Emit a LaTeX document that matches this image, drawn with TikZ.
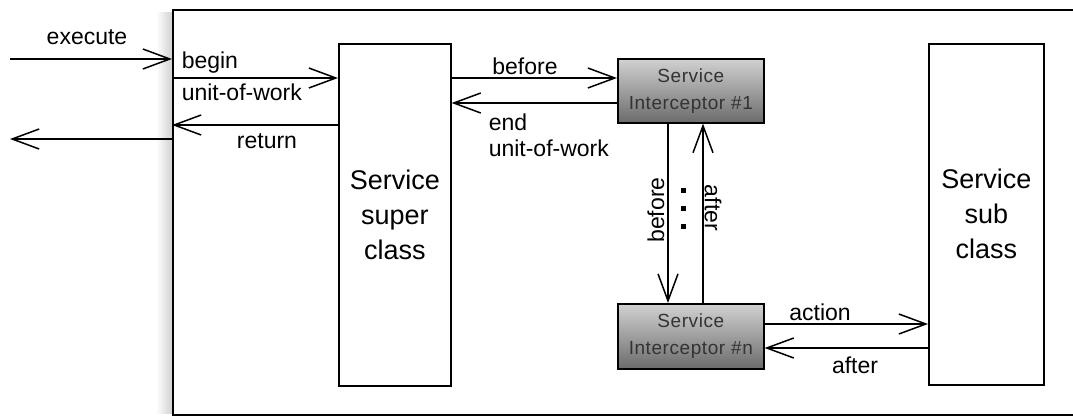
\documentclass[tikz,border=0pt]{standalone}
\usepackage{fontspec}
\setmainfont{Liberation Sans}
\usetikzlibrary{arrows.meta, positioning}

\begin{document}
\begin{tikzpicture}[x=1pt, y=-1pt, line width=1.5pt,
        >={Straight Barb[length=27pt, width=20pt, line width=1.5pt]}]
    \tikzset{
        classbox/.style={draw, line width=1.6pt, align=center, inner sep=0pt,
            font=\fontsize{27}{35}\selectfont},
        interceptor/.style={draw, line width=1.6pt, align=center, inner sep=0pt,
            top color=black!18, bottom color=black!58, text=black!80,
            minimum width=146pt,
            font=\fontsize{19}{27}\selectfont\addfontfeature{LetterSpace=3}},
        lbl/.style={inner sep=0pt, font=\fontsize{23}{27}\selectfont}
    };
    \useasboundingbox (0,0) rectangle (1073,416);
    \fill[white] (0,0) rectangle (1073,416);
    % soft shadow along the left edge of the frame
    \shade[left color=white, right color=black!18] (156,12) rectangle (172,413);
    \node[draw, fill=white, line width=1.6pt, anchor=north west,
        minimum width=940pt, minimum height=405pt] (frame) at (172,9) {};

    \node[classbox, anchor=north west, minimum width=112pt, minimum height=342pt]
        (super) at (338,43) {Service\\super\\class};
    \node[classbox, anchor=north west, minimum width=115pt, minimum height=341pt]
        (sub) at (928,43) {Service\\sub\\class};
    \node[interceptor, anchor=north west, minimum height=64pt]
        (icp1) at (617,58) {Service\\Interceptor \#1};
    \node[interceptor, anchor=north west, minimum height=65pt]
        (icpn) at (617,303) {Service\\Interceptor \#n};

    % calls coming in from outside and going back out
    \coordinate (callIn) at (10,59);
    \coordinate (callOut) at (10,139);
    \draw[->] (callIn) -- (frame.west |- callIn);
    \draw[->] (frame.west |- callOut) -- (callOut);
    \node[lbl] (execute) at (87,37) {execute};

    % frame <-> super class
    \draw[->] (frame.west |- 0,78) -- (super.west |- 0,78);
    \draw[->] (super.west |- 0,125) -- (frame.west |- 0,125);
    \node[lbl, anchor=west] (beginTop) at (181,63) {begin};
    \node[lbl, anchor=west] (beginBot) at (181,92) {unit-of-work};
    \node[lbl] (return) at (267,141) {return};

    % super class <-> first interceptor
    \draw[->] (super.east |- 0,78) -- (icp1.west |- 0,78);
    \draw[->] (icp1.west |- 0,103) -- (super.east |- 0,103);
    \node[lbl] (beforeTop) at (525,66) {before};
    \node[lbl, anchor=west] (endTop) at (488,122) {end};
    \node[lbl, anchor=west] (endBot) at (488,148) {unit-of-work};

    % interceptor chain
    \draw[->] (icp1.south -| 668,0) -- (icpn.north -| 668,0);
    \draw[->] (icpn.north -| 703,0) -- (icp1.south -| 703,0);
    \node[lbl, rotate=90] (beforeChain) at (656,210) {before};
    \node[lbl, rotate=-90] (afterChain) at (713,208) {after};
    \foreach \y in {190,208,226}
        \fill (680.5,\y-2.5) rectangle +(5,5);

    % last interceptor <-> sub class
    \draw[->] (icpn.east |- 0,324) -- (sub.west |- 0,324);
    \draw[->] (sub.west |- 0,348) -- (icpn.east |- 0,348);
    \node[lbl] (action) at (820,312) {action};
    \node[lbl] (afterSub) at (855,365) {after};
\end{tikzpicture}
\end{document}
